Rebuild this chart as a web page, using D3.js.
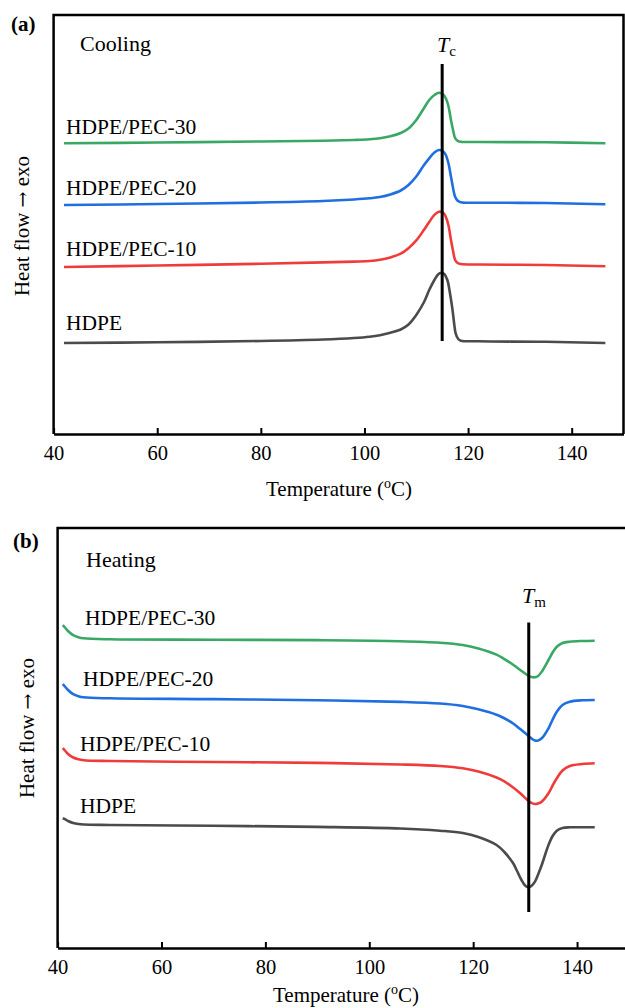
<!DOCTYPE html>
<html>
<head>
<meta charset="utf-8">
<script src="https://cdn.jsdelivr.net/npm/d3@7"></script>
<style>
  body { margin: 0; background: #fff; }
  svg text { font-family: "Liberation Serif", "Times New Roman", serif; fill: #000; }
</style>
</head>
<body>
<svg id="fig" width="625" height="1008"></svg>
<script>
// ---- DSC curves (heat flow in arbitrary units, curves offset vertically) ----
const tickValues = [40, 60, 80, 100, 120, 140];
const seriesNames = ["HDPE/PEC-30", "HDPE/PEC-20", "HDPE/PEC-10", "HDPE"];
const seriesColors = ["#3aa865", "#1f6fe0", "#f03b3b", "#4b4b4b"];

// Cooling scans
const coolTemp = [42, 60, 80, 92, 98, 101, 103, 105, 107, 108.5, 110, 111.5, 112.5, 113.5, 114.4, 115.2, 115.7, 116.2, 116.7, 117.1, 117.5, 118, 118.6, 122, 135, 146.5];
const coolPEC30 = [69.38, 69.57, 69.81, 69.98, 70.17, 70.33, 70.57, 71.05, 71.84, 72.91, 74.94, 77.80, 79.71, 80.91, 81.46, 81.03, 80.12, 78.28, 74.94, 72.55, 70.64, 69.98, 69.76, 69.69, 69.62, 69.38];
const coolPEC20 = [54.65, 54.89, 55.25, 55.61, 55.97, 56.25, 56.56, 57.16, 58.11, 59.43, 61.46, 64.20, 65.80, 67.18, 67.78, 67.42, 66.59, 64.68, 61.41, 58.71, 56.63, 55.66, 55.30, 55.20, 55.13, 54.82];
const coolPEC10 = [39.86, 40.21, 40.62, 40.95, 41.15, 41.29, 41.58, 42.15, 43.05, 44.35, 46.20, 48.75, 50.60, 52.30, 53.05, 52.79, 51.86, 49.88, 46.30, 43.68, 41.53, 40.81, 40.57, 40.45, 40.33, 40.02];
const coolTempHDPE = [42, 60, 80, 92, 98, 101, 103, 105, 107, 108.5, 110, 111.5, 112.5, 113.5, 114.2, 114.8, 115.4, 116, 116.5, 117, 117.3, 117.6, 118.1, 118.6, 122, 135, 146.5];
const coolHDPE = [21.72, 21.89, 22.20, 22.55, 22.91, 23.22, 23.58, 24.15, 24.94, 26.13, 28.40, 31.50, 34.37, 36.75, 38.07, 38.50, 38.19, 36.75, 33.65, 29.59, 26.49, 24.03, 22.67, 22.27, 22.12, 22.00, 21.72];

// Heating scans
const heatTemp = [41, 41.5, 42, 43, 44, 45, 50, 70, 90, 106, 113.6, 118, 121, 124.5, 126, 127.7, 129, 130.4, 131.2, 131.9, 132.5, 133.2, 134.5, 135.3, 136.1, 137.2, 138.6, 141, 143.4];
const heatPEC30 = [76.90, 76.19, 75.48, 74.48, 74.00, 73.74, 73.50, 73.40, 73.30, 73.05, 72.69, 72.14, 71.31, 69.85, 68.80, 67.45, 66.25, 65.00, 64.52, 64.45, 64.76, 65.79, 68.57, 70.36, 71.74, 72.62, 72.93, 73.10, 73.17];
const heatPEC20 = [62.86, 62.14, 61.43, 60.43, 59.95, 59.69, 59.45, 59.25, 59.00, 58.60, 58.20, 57.62, 56.85, 55.55, 54.70, 53.45, 52.20, 50.75, 49.90, 49.40, 49.42, 49.93, 52.31, 54.40, 56.26, 57.86, 58.64, 58.98, 59.05];
const heatPEC10 = [47.62, 46.90, 46.19, 45.36, 44.93, 44.71, 44.52, 44.29, 44.07, 43.69, 43.33, 42.79, 42.02, 40.60, 39.70, 38.20, 36.90, 35.30, 34.55, 34.29, 34.40, 34.83, 36.83, 38.69, 40.40, 42.26, 43.33, 43.81, 43.98];
const heatTempHDPE = [41, 41.5, 42, 43, 44, 45, 50, 70, 90, 106, 113.6, 118, 121, 124.5, 126, 127.7, 128.5, 129.3, 130, 130.6, 131.2, 131.9, 132.5, 133.2, 134.5, 135.3, 136.1, 137.2, 138.6, 141, 143.4];
const heatHDPE = [30.95, 30.60, 30.24, 29.76, 29.52, 29.40, 29.29, 29.10, 28.83, 28.45, 27.93, 27.38, 26.43, 24.52, 22.86, 20.17, 18.21, 16.19, 14.88, 14.45, 14.76, 15.79, 17.50, 19.76, 24.52, 26.67, 27.93, 28.57, 28.74, 28.74, 28.74];

// Characteristic temperatures and the span of their marker lines
const tcValue = 115, tcSpan = [22.2, 88.3];
const tmValue = 130.7, tmSpan = [8.6, 77.5];

const svg = d3.select("#fig");

function drawPanel(p) {
  const g = svg.append("g");
  const x = d3.scaleLinear().domain([40, 150]).range([p.left, p.right]);
  const y = d3.scaleLinear().domain([0, 100]).range([p.bottom, p.top]);

  // frame (left, top, right)
  g.append("path")
    .attr("d", `M${p.left},${p.bottom}V${p.top}H${p.right}V${p.bottom}`)
    .attr("fill", "none").attr("stroke", "#000").attr("stroke-width", 2.5);

  // bottom axis with inward ticks
  const ax = g.append("g")
    .attr("transform", `translate(0,${p.bottom})`)
    .call(d3.axisBottom(x).tickValues(tickValues).tickSizeInner(-6).tickSizeOuter(0).tickPadding(11));
  ax.select(".domain").attr("stroke", "#000").attr("stroke-width", 2.5);
  ax.selectAll(".tick line").attr("stroke", "#000").attr("stroke-width", 2);
  ax.selectAll(".tick text")
    .attr("font-family", "Liberation Serif").attr("font-size", 20.5).attr("fill", "#000");

  // curves
  const line = d3.line().x(d => x(d[0])).y(d => y(d[1])).curve(d3.curveCatmullRom.alpha(0.5));
  p.series.forEach((s, i) => {
    g.append("path")
      .datum(d3.zip(s.t, s.v))
      .attr("d", line)
      .attr("fill", "none")
      .attr("stroke", seriesColors[i])
      .attr("stroke-width", 2.6)
      .attr("stroke-linejoin", "round");
    g.append("text")
      .attr("x", p.labelPos[i][0]).attr("y", p.labelPos[i][1])
      .attr("font-size", 21.5)
      .text(seriesNames[i]);
  });

  // peak temperature marker
  g.append("line")
    .attr("x1", x(p.mark)).attr("x2", x(p.mark))
    .attr("y1", y(p.span[0])).attr("y2", y(p.span[1]))
    .attr("stroke", "#000").attr("stroke-width", 3);
  const mt = g.append("text")
    .attr("x", p.markLabel[0]).attr("y", p.markLabel[1])
    .attr("font-size", 22);
  mt.append("tspan").attr("font-style", "italic").text("T");
  mt.append("tspan").attr("font-size", 15).attr("dy", 4).text(p.sub);

  // panel letter and scan mode
  g.append("text").attr("x", p.letterPos[0]).attr("y", p.letterPos[1])
    .attr("font-size", 21).attr("font-weight", "bold").text(p.letter);
  g.append("text").attr("x", p.modePos[0]).attr("y", p.modePos[1])
    .attr("font-size", 22).text(p.mode);

  // y axis title
  const yt = g.append("text")
    .attr("transform", `translate(${p.yTitle[0]},${p.yTitle[1]}) rotate(-90)`)
    .attr("text-anchor", "middle").attr("font-size", 21);
  yt.append("tspan").text("Heat flow ");
  yt.append("tspan").attr("font-family", "DejaVu Serif").attr("font-size", 19).text("\u2192");
  yt.append("tspan").text(" exo");

  // x axis title
  const xt = g.append("text")
    .attr("x", p.xTitle[0]).attr("y", p.xTitle[1])
    .attr("text-anchor", "middle").attr("font-size", 21);
  xt.append("tspan").text("Temperature (");
  xt.append("tspan").attr("font-size", 14).attr("dy", -8).text("o");
  xt.append("tspan").attr("dy", 8).text("C)");
}

drawPanel({
  left: 53.6, right: 623.5, top: 15, bottom: 434,
  series: [
    { t: coolTemp, v: coolPEC30 },
    { t: coolTemp, v: coolPEC20 },
    { t: coolTemp, v: coolPEC10 },
    { t: coolTempHDPE, v: coolHDPE }
  ],
  labelPos: [[66, 134], [66, 195], [66, 256], [66, 330]],
  mark: tcValue, span: tcSpan, sub: "c", markLabel: [437, 52],
  letter: "(a)", letterPos: [11, 31],
  mode: "Cooling", modePos: [80, 51],
  yTitle: [29, 226], xTitle: [339, 496]
});

drawPanel({
  left: 57.6, right: 629, top: 528, bottom: 948,
  series: [
    { t: heatTemp, v: heatPEC30 },
    { t: heatTemp, v: heatPEC20 },
    { t: heatTemp, v: heatPEC10 },
    { t: heatTempHDPE, v: heatHDPE }
  ],
  labelPos: [[85, 625], [83, 686], [80, 751], [80, 813]],
  mark: tmValue, span: tmSpan, sub: "m", markLabel: [522, 603],
  letter: "(b)", letterPos: [13, 548],
  mode: "Heating", modePos: [86, 567],
  yTitle: [34, 728], xTitle: [346, 1002]
});
</script>
</body>
</html>
